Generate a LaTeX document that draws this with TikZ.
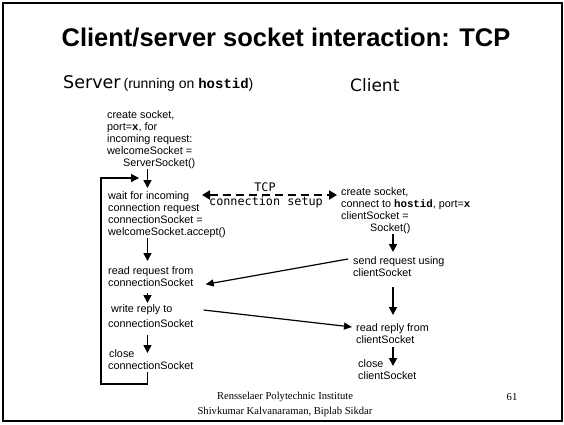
\documentclass[tikz,border=0pt]{standalone}
\usepackage{fontspec}
\setmainfont{Liberation Sans}
\newfontfamily\labelfont{DejaVu Sans}
\newfontfamily\setupfont{DejaVu Sans Mono}
\newfontfamily\codefont{Liberation Mono}
\newfontfamily\footfont{Liberation Serif}
\usetikzlibrary{arrows.meta, calc}
\newcommand{\cw}[1]{{\codefont\bfseries #1}}

\begin{document}
\begin{tikzpicture}[x=1pt, y=-1pt,
	action/.style={anchor=north west, inner sep=0pt, align=left, font=\fontsize{10.8}{12}\selectfont},
	flow/.style={line width=1.6pt, -{Triangle[length=8pt, width=8pt]}},
	link/.style={line width=1.2pt, -{Triangle[length=8pt, width=7pt]}},
	loopback/.style={line width=1.3pt, -{Triangle[length=8pt, width=8pt]}},
	setup/.style={line width=2.8pt, dash pattern=on 8pt off 5pt, {Triangle[length=8pt, width=9pt]}-{Triangle[length=8pt, width=9pt]}}]
	\useasboundingbox (0,0) rectangle (564,424);
	\draw[line width=2.5pt] (3,3) rectangle (562,421);
	\node[font=\fontsize{25.5}{30}\selectfont\bfseries] (title) at (286,38) {Client/server socket interaction: TCP};
	\node[anchor=base west, inner sep=0pt] (server) at (63,88) {{\labelfont\fontsize{17.5}{20}\selectfont Server}\hspace{3pt}{\fontsize{14}{14}\selectfont (running on \cw{hostid})}};
	\node[anchor=base west, inner sep=0pt, font=\labelfont\fontsize{17}{20}\selectfont] (client) at (350,91) {Client};

	\node[action] (s1) at (107,110) {create socket,\\ port=\cw{x}, for\\ incoming request:\\ welcomeSocket =\\ \hspace{16pt}ServerSocket()};
	\node[action] (s2) at (108,191) {wait for incoming\\ connection request\\ connectionSocket =\\ welcomeSocket.accept()};
	\node[action] (s3) at (108,266) {read request from\\ connectionSocket};
	\node[action] (s4) at (108,304) {\hspace{3pt}write reply to\\[3pt] connectionSocket};
	\node[action] (s5) at (108,349) {\hspace{1pt}close\\ connectionSocket};

	\node[action] (c1) at (341,187) {create socket,\\ connect to \cw{hostid}, port=\cw{x}\\ clientSocket =\\ \hspace{29pt}Socket()};
	\node[action] (c2) at (353,256) {send request using\\ clientSocket};
	\node[action] (c3) at (356,323) {read reply from\\ clientSocket};
	\node[action] (c4) at (358,359) {close\\ clientSocket};

	\node[font=\setupfont\fontsize{11.8}{12}\selectfont, inner sep=0pt] (tcp) at (265,187) {TCP};
	\node[font=\setupfont\fontsize{11.8}{12}\selectfont, inner sep=0pt] (conn) at (266,202) {connection setup};

	\coordinate (sx) at (147.5,0);
	\coordinate (cx) at (393,0);
	\coordinate (lb) at (101,384);
	\coordinate (lt) at (139,178);
	\coordinate (tl) at (202,195);

	\draw[flow, shorten <=1pt, shorten >=3pt] (s1.south -| sx) -- (s2.north -| sx);
	\draw[flow, shorten <=1pt, shorten >=5pt] (s2.south -| sx) -- (s3.north -| sx);
	\draw[flow, shorten <=7pt, shorten >=1pt] (s3.south -| sx) -- (s4.north -| sx);
	\draw[flow, shorten <=8pt, shorten >=-4pt] (s4.south -| sx) -- (s5.north -| sx);
	\draw[loopback, shorten <=3pt] (s5.south -| sx) |- (lb) |- (lt);

	\draw[flow, shorten <=1pt, shorten >=4pt] (c1.south -| cx) -- (c2.north -| cx);
	\draw[flow, shorten <=11pt, shorten >=8pt] (c2.south -| cx) -- (c3.north -| cx);
	\draw[flow, shorten <=4pt, shorten >=-7pt] (c3.south -| cx) -- (c4.north -| cx);

	\draw[setup] (tl) -- ($(c1.north west)+(-4,8)$);
	\draw[link] ($(c2.north west)+(-5,3)$) -- ($(s3.south east)+(12,-2)$);
	\draw[link] ($(s4.north east)+(10,6)$) -- ($(c3.north west)+(-4,4)$);

	\node[font=\footfont\fontsize{10.6}{15}\selectfont, align=center] (credit) at (285,404) {Rensselaer Polytechnic Institute\\ Shivkumar Kalvanaraman, Biplab Sikdar};
	\node[font=\footfont\fontsize{10.6}{12}\selectfont] (page) at (512,397) {61};
\end{tikzpicture}
\end{document}
